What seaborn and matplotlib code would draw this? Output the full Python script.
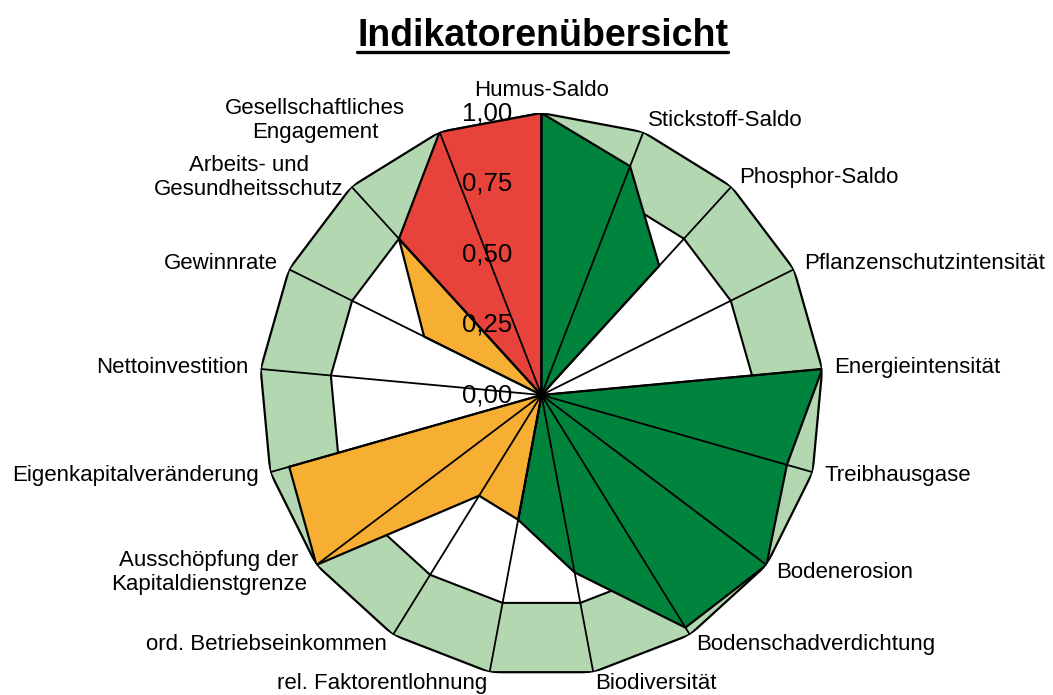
import numpy as np
import matplotlib
matplotlib.use("Agg")
import matplotlib.pyplot as plt
from matplotlib.lines import Line2D
import seaborn as sns

# indicators, clockwise from the top
indicators = [
    "Humus-Saldo", "Stickstoff-Saldo", "Phosphor-Saldo", "Pflanzenschutzintensität",
    "Energieintensität", "Treibhausgase", "Bodenerosion", "Bodenschadverdichtung",
    "Biodiversität", "rel. Faktorentlohnung", "ord. Betriebseinkommen",
    "Ausschöpfung der\nKapitaldienstgrenze", "Eigenkapitalveränderung", "Nettoinvestition",
    "Gewinnrate", "Arbeits- und\nGesundheitsschutz", "Gesellschaftliches\nEngagement",
]
values = [1.00, 0.87, 0.62, 0.0, 1.00, 0.905, 1.00, 0.97, 0.64, 0.45,
          0.42, 1.00, 0.93, 0.0, 0.465, 0.75, 1.00]

# which indicators belong to which coloured area
green_top = [0, 1, 2]
green_bottom = [4, 5, 6, 7, 8, 9]
orange_bottom = [9, 10, 11, 12]
orange_top = [14, 15]
red_top = [15, 16, 0]

ticks = [0.0, 0.25, 0.5, 0.75, 1.0]
tick_labels = ["0,00", "0,25", "0,50", "0,75", "1,00"]
band_inner = 0.75

GREEN = "#00843D"
ORANGE = "#F6AF32"
RED = "#E8433A"
LIGHT = "#B3D8B1"


def main():
    sns.set_theme(style="white")
    plt.rcParams["font.family"] = ["Liberation Sans", "DejaVu Sans"]

    n = len(indicators)
    theta = np.arange(n) * 2 * np.pi / n
    theta_c = np.append(theta, theta[0])

    fig = plt.figure(figsize=(10.53, 6.95), dpi=100)
    ax = fig.add_axes([0.2464, 0.0259, 0.5356, 0.8115], projection="polar")
    ax.set_theta_offset(np.pi / 2)
    ax.set_theta_direction(-1)
    ax.set_ylim(0, 1)
    ax.axis("off")

    def closed(r):
        r = np.asarray(r, dtype=float)
        return np.append(r, r[0])

    # tolerance band and inner white area
    ax.fill(theta_c, closed(np.ones(n)), facecolor=LIGHT, edgecolor="black", lw=1.6, zorder=1)
    ax.fill(theta_c, closed(np.full(n, band_inner)), facecolor="white", edgecolor="black",
            lw=1.5, zorder=2)

    groups = [(green_top, GREEN), (green_bottom, GREEN), (orange_bottom, ORANGE),
              (orange_top, ORANGE), (red_top, RED)]
    for idx, col in groups:
        r = np.zeros(n)
        r[idx] = np.array(values)[idx]
        ax.fill(theta_c, closed(r), facecolor=col, edgecolor="black", lw=1.6,
                joinstyle="miter", zorder=3)

    # spokes
    for t in theta:
        ax.plot([t, t], [0, 1], color="black", lw=1.3, zorder=4)

    # radial tick labels left of the top spoke
    for v, lab in zip(ticks, tick_labels):
        ax.annotate(lab, xy=(0, v), xytext=(-29, 0), textcoords="offset pixels",
                    ha="right", va="center", fontsize=18.5, color="black", zorder=6)

    # category labels
    extra = {16: (-30, 0)}
    for i, (t, lab) in enumerate(zip(theta, indicators)):
        dx, dy = np.sin(t), np.cos(t)
        if dx > 0.1:
            ha = "left"
        elif dx < -0.1:
            ha = "right"
        else:
            ha = "center"
        va = "bottom" if dy > 0.95 else "center"
        ex, ey = extra.get(i, (0, 0))
        ax.annotate(lab, xy=(t, 1.0), xytext=(dx * 12 + ex, dy * 12 + ey),
                    textcoords="offset pixels", ha=ha, va=va, fontsize=16,
                    multialignment="center", color="black", zorder=6)

    title = fig.text(0.5152, 0.9331, "Indikatorenübersicht", ha="center", va="baseline",
                     fontsize=27, fontweight="bold", color="black")
    fig.canvas.draw()
    bb = title.get_window_extent().transformed(fig.transFigure.inverted())
    fig.add_artist(Line2D([bb.x0, bb.x1], [0.9252, 0.9252], transform=fig.transFigure,
                          color="black", lw=2.4))

    fig.savefig("out.png", dpi=100, facecolor="white")


if __name__ == "__main__":
    main()
